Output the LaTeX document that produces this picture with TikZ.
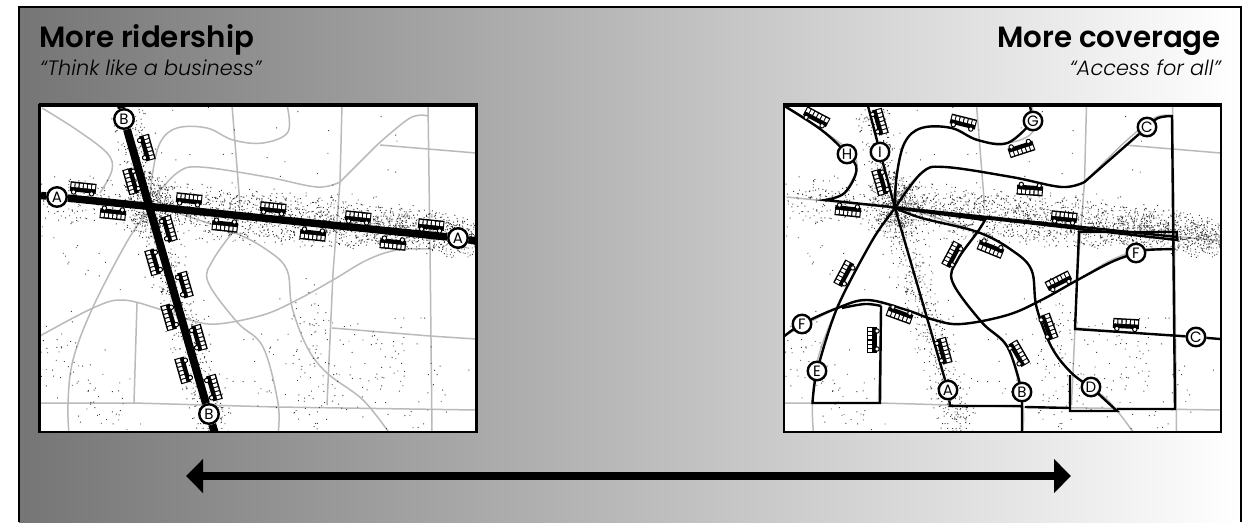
\documentclass[tikz,border=0pt]{standalone}
\usepackage{fontspec}
\setmainfont{Poppins}[BoldFont={Poppins SemiBold}, ItalicFont={Poppins Light Italic}]
\usetikzlibrary{arrows.meta, backgrounds}

% scattered dots along a stretch: x1, y1, x2, y2, spread, count
\newcommand{\stipple}[6]{%
    \fill[stipple_dot] foreach \n [evaluate=\n as \stipT using rnd] in {1,...,#6}{
        ({#1+\stipT*(#3-#1)+#5*(rand+rand)/2},{#2+\stipT*(#4-#2)+#5*(rand+rand)/2}) rectangle ++(0.95,0.95)
    };%
}

% streets and population shared by both maps
\newcommand{\citymap}{%
    \fill[white] (40,105) rectangle (476,432);
    \begin{scope}
        \clip (40,105) rectangle (476,432);
        \draw[road_line] (42,197) -- (476,241);
        \draw[road_line] plot[smooth, tension=0.6] coordinates {(42,108) (77,130) (107,153) (112,170) (100,193)};
        \draw[road_line] (232,105) -- (240,205);
        \draw[road_line] plot[smooth, tension=0.6] coordinates {(287,105) (288,132) (263,143) (233,140) (207,128) (177,128) (160,143) (152,177) (150,205)};
        \draw[road_line] plot[smooth, tension=0.6] coordinates {(155,197) (177,173) (200,167) (267,177) (317,187) (340,182)} -- (377,145);
        \draw[road_line] plot[smooth, tension=0.6] coordinates {(377,145) (410,118) (428,116)};
        \draw[road_line] (342,105) -- (340,182) -- (333,273) -- (327,405);
        \draw[road_line] (428,105) -- (430,247) -- (432,432);
        \draw[road_line] (380,145) -- (476,153);
        \draw[road_line] plot[smooth, tension=0.6] coordinates {(148,212) (128,240) (93,307) (73,360) (68,403) (69,434)};
        \draw[road_line] plot[smooth, tension=0.6] coordinates {(177,213) (233,232) (267,250) (287,270) (292,307) (307,347) (327,373) (363,400) (390,434)};
        \draw[road_line] plot[smooth, tension=0.6] coordinates {(233,232) (213,260) (208,282) (237,322) (263,347) (278,403) (278,434)};
        \draw[road_line] plot[smooth, tension=0.6] coordinates {(40,336) (93,308) (123,300) (162,310) (190,320) (217,324) (263,315) (297,300) (333,280) (367,260) (397,250) (430,249)};
        \draw[road_line] (137,303) -- (134,403);
        \draw[road_line] (40,403) -- (134,403) -- (277,407) -- (476,410);
        \draw[road_line] (332,328) -- (430,336) -- (476,339);
        % population
        \pgfmathsetseed{4242}
        \stipple{42}{196}{150}{206}{26}{190}
        \stipple{150}{206}{380}{226}{30}{1300}
        \stipple{380}{226}{476}{238}{24}{760}
        \stipple{150}{205}{150}{205}{32}{320}
        \stipple{125}{108}{150}{205}{20}{270}
        \stipple{150}{205}{215}{432}{23}{560}
        \stipple{50}{340}{110}{415}{45}{80}
        \stipple{300}{290}{335}{400}{40}{90}
        \stipple{365}{330}{440}{410}{50}{65}
        \stipple{230}{340}{310}{410}{50}{35}
        \stipple{120}{120}{430}{160}{70}{30}
        \stipple{60}{230}{100}{270}{40}{20}
        \stipple{290}{405}{470}{425}{30}{25}
    \end{scope}
}

% map border: sides, then the heavier top edge
\newcommand{\mapframe}[2]{%
    \draw[line width=2.4pt] (#1,105) rectangle (#2,432);
    \draw[line width=4pt] (#1-1,105) -- (#2+1,105);
}

\begin{document}
\begin{tikzpicture}[
        x=1pt,
        y=-1pt,
        road_line/.style={
            draw=black!27,
            line width=1.5pt
        },
        stipple_dot/.style={
            fill=black!75
        },
        heavy_route/.style={
            draw=black,
            line width=7.5pt
        },
        route_line/.style={
            draw=black,
            line width=2.4pt,
            line join=miter
        },
        route_tag/.style={
            circle,
            draw=black,
            fill=white,
            line width=2.4pt,
            inner sep=0pt,
            minimum size=18.5pt,
            font=\fontsize{15}{15}\selectfont
        },
        title_text/.style={
            font=\fontsize{29.3}{30}\selectfont\bfseries,
            inner sep=0pt
        },
        motto_text/.style={
            font=\fontsize{20.8}{22}\selectfont\itshape,
            inner sep=0pt
        },
        scale_arrow/.style={
            {Triangle[length=17pt, width=33pt]}-{Triangle[length=17pt, width=33pt]},
            draw=black,
            line width=8pt
        },
        bus_pic/.pic={
            \fill[black] (-13,-6.5) rectangle (13,3.5);
            \foreach \wx in {-10.4,-6.3,-2.1,2.1,6.3,10.4}{
                \fill[white] (\wx-1.5,-5) rectangle (\wx+1.5,-1);
            }
            \filldraw[fill=white, draw=black, line width=1pt] (-9,4) circle (2.2);
            \filldraw[fill=white, draw=black, line width=1pt] (9,4) circle (2.2);
        }
    ]
    \useasboundingbox (0,0) rectangle (1250,522);

    % Titles
    \node[title_text, anchor=base west] (title_left) at (39,47) {More ridership};
    \node[motto_text, anchor=base west] (motto_left) at (40,75) {``Think like a business''};
    \node[title_text, anchor=base east] (title_right) at (1221,47) {More coverage};
    \node[motto_text, anchor=base east] (motto_right) at (1221,75) {``Access for all''};

    % Route tags, left map
    \node[route_tag, minimum size=19.5pt] (ridership_a_west) at (57,197) {A};
    \node[route_tag, minimum size=19.5pt] (ridership_a_east) at (458,238) {A};
    \node[route_tag, minimum size=19.5pt] (ridership_b_north) at (124,119) {B};
    \node[route_tag, minimum size=19.5pt] (ridership_b_south) at (209,414) {B};

    % Route tags, right map
    \node[route_tag] (tag_h) at (847,154) {H};
    \node[route_tag] (tag_i) at (880,152) {I};
    \node[route_tag] (tag_g) at (1033,121) {G};
    \node[route_tag] (tag_c_north) at (1147,127) {C};
    \node[route_tag] (tag_f_east) at (1136,253) {F};
    \node[route_tag] (tag_c_east) at (1196,337) {C};
    \node[route_tag] (tag_f_west) at (802,324) {F};
    \node[route_tag] (tag_e) at (817,371) {E};
    \node[route_tag] (tag_a) at (948,390) {A};
    \node[route_tag] (tag_b) at (1022,392) {B};
    \node[route_tag] (tag_d) at (1091,387) {D};

    \coordinate (hub) at (895,208);
    \coordinate (arrow_west) at (186,476);
    \coordinate (arrow_east) at (1071,476);

    \begin{scope}[on background layer]
        % Backdrop
        \shade[left color=black!54, right color=white] (19,7) rectangle (1241,522);

        % Left map
        \citymap
        \draw[heavy_route] (41,195.5) -- (ridership_a_west) -- (ridership_a_east) -- (476,241);
        \draw[heavy_route, line width=8pt] (121,105) -- (ridership_b_north) -- (ridership_b_south) -- (214.5,432);

        % Right map
        \begin{scope}[shift={(744.5,0)}]
            \citymap
        \end{scope}

        % Routes H and I, with A beyond the hub
        \draw[route_line] plot[smooth, tension=0.6] coordinates {(784.5,106) (821.5,130) (tag_h) (856.5,170) (844.5,193) (825,200)} -- (1177,237);
        \draw[route_line] (868,106) -- (tag_i) -- (hub) -- (tag_a) -- (950,406) -- (1022,406);

        % Routes G and C
        \draw[route_line] (1030,106) -- (tag_g);
        \draw[route_line] plot[smooth, tension=0.6] coordinates {(hub) (896.5,177) (904.5,143) (921.5,128) (951.5,128) (977.5,140) (1007.5,143) (tag_g)};
        \draw[route_line] plot[smooth, tension=0.6] coordinates {(hub) (921.5,173) (944.5,167) (1011.5,177) (1061.5,187) (1084.5,182)} -- (tag_c_north);
        \draw[route_line] plot[smooth, tension=0.6] coordinates {(tag_c_north) (1158,118) (1172,116)} -- (1175,409) -- (1117,409);

        % Routes B and D
        \draw[route_line] (hub) -- (985,220) -- plot[smooth, tension=0.6] coordinates {(985,220) (977.5,232) (957.5,260) (952.5,282) (981.5,322) (1007.5,347) (tag_b)} -- (1022,432);
        \draw[route_line] plot[smooth, tension=0.6] coordinates {(hub) (921.5,218) (977.5,232) (1011.5,250) (1031.5,270) (1036.5,307) (1051.5,347) (1071.5,373) (tag_d)} -- (1117,411) -- (1070,411) -- (1070,375);
        \draw[route_line] (1025,407) -- (1070,408);
        \draw[route_line] (hub) -- (1177,240) -- (1177,232) -- (1079,232) -- (1075,329) -- (tag_c_east) -- (1220,339);

        % Routes F and E
        \draw[route_line] plot[smooth, tension=0.6] coordinates {(784.5,336) (tag_f_west) (837.5,308) (867.5,300) (906.5,310) (934.5,320) (961.5,324) (1007.5,315) (1041.5,300) (1077.5,280) (1111.5,262) (tag_f_east) (1147,250) (1174.5,249)};
        \draw[route_line] plot[smooth, tension=0.5] coordinates {(hub) (872.5,240) (837.5,307) (tag_e) (812.5,403)} -- (880,403) -- (881,306);
        \draw[route_line] plot[smooth, tension=0.6] coordinates {(881,306) (865,304) (842,308)};
    \end{scope}

    % Map borders
    \mapframe{39.5}{476.5}
    \mapframe{784}{1221}

    % Page border, open at the foot
    \draw[line width=2pt] (19,522) -- (19,7) -- (1241,7) -- (1241,522);

    % Buses, left map
    \foreach \bx/\by/\ba in {83/189/-6, 113/213/174, 189/200/-6, 225/225/174, 273/209/-6, 313/234/174, 358/218/-6, 393/243/174, 431/226/-6,
        146/148/-74, 132/181/106, 168/229/-74, 154/262/106, 184/285/-74, 170/317/106, 198/338/-74, 184/370/106, 213/388/-74}{
        \pic[rotate=\ba] at (\bx,\by) {bus_pic};
    }

    % Buses, right map
    \foreach \bx/\by/\ba in {816/118/-28, 879/122/-74, 881/182/106, 963/123/-14, 1021/148/198, 1030/189/176, 1064/218/-6, 848/210/174,
        991/248/158, 953/255/62, 845/274/62, 900/314/160, 873/340/90, 1059/282/27, 1048/327/-70, 943/351/-75, 1018/354/-60, 1126/325/-3}{
        \pic[rotate=\ba] at (\bx,\by) {bus_pic};
    }

    % Scale arrow
    \draw[scale_arrow] (arrow_west) -- (arrow_east);
\end{tikzpicture}
\end{document}
